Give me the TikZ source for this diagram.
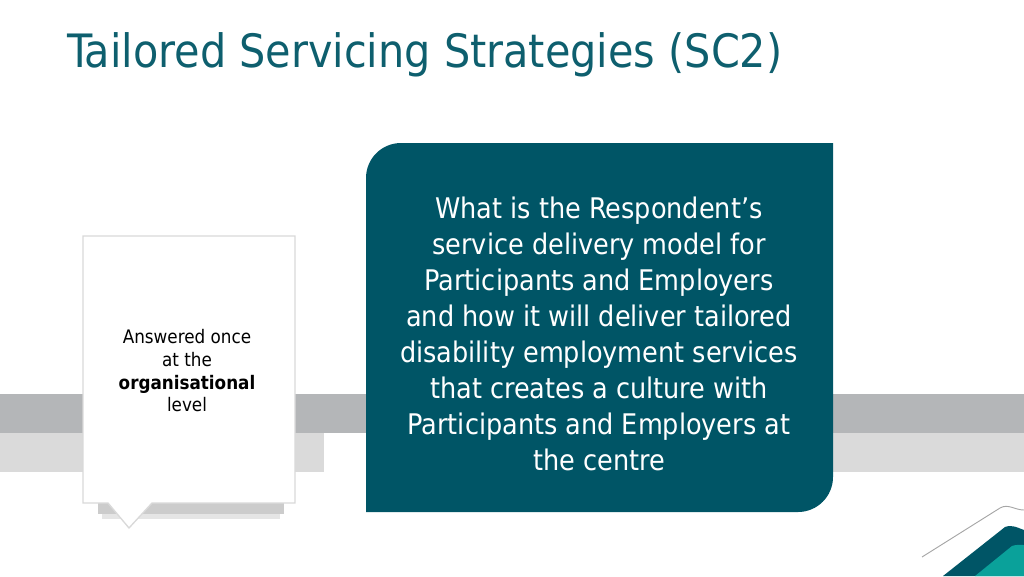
\documentclass[tikz,border=0pt]{standalone}
\usepackage{fontspec}
\setmainfont{DejaVu Sans Condensed}
\begin{document}
\begin{tikzpicture}[x=0.75pt,y=-0.75pt]
\definecolor{teal1}{HTML}{005566}
\definecolor{title}{HTML}{0E5F6E}
\definecolor{aqua}{HTML}{0AA19A}
\definecolor{gdark}{HTML}{B4B6B8}
\definecolor{glight}{HTML}{DADADA}
\useasboundingbox (0,0) rectangle (1024,576);
\node[anchor=base west,text=title,font=\fontsize{34.5}{40}\selectfont,inner sep=0] (t) at (67,67) {Tailored Servicing Strategies (SC2)};
% bars
\fill[gdark] (0,394) rectangle (1024,433);
\fill[glight] (0,433) rectangle (324,472);
\fill[glight] (833,433) rectangle (1024,472);
% teal box
\fill[teal1] (366,512) -- (366,178) arc[start angle=180,end angle=270,radius=35] -- (833,143) -- (833,477) arc[start angle=0,end angle=90,radius=35] -- cycle;
\node[text=white,align=center,font=\fontsize{21.3}{27}\selectfont] (q) at (599,334) {What is the Respondent’s\\service delivery model for\\Participants and Employers\\and how it will deliver tailored\\disability employment services\\that creates a culture with\\Participants and Employers at\\the centre};
% card shadow
\fill[black!40,opacity=0.5] (98,503) rectangle (284,514);
\fill[black!25,opacity=0.4] (102,514) rectangle (280,519);
\filldraw[fill=white,draw=black!15,line width=1] (83,236) -- (295,236) -- (295,503) -- (152,503) -- (129,528) -- (108,503) -- (83,503) -- cycle;
\node[align=center,font=\fontsize{14}{17}\selectfont,inner sep=0] (c) at (187,371) {Answered once\\at the\\\textbf{organisational}\\level};
% corner decoration
\draw[black!35,line width=0.7] (922,557) -- (1000,508) to[out=30,in=180] (1024,510);
\fill[teal1] (943,576) -- (1005,527) to[out=20,in=160] (1024,530) -- (1024,576) -- cycle;
\fill[aqua] (975,576) -- (1012,546) to[out=20,in=180] (1024,545) -- (1024,576) -- cycle;
\end{tikzpicture}
\end{document}
